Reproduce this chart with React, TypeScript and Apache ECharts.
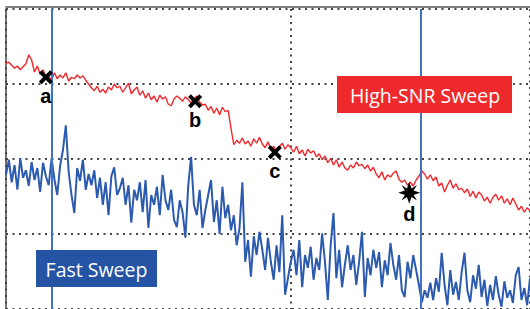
import React, { useEffect, useRef } from "react";
import * as echarts from "echarts";

// x axis in sweep units (0..92), one sample every 0.5 unit
const X_MIN = 0;
const X_MAX = 92;
const X_STEP = 0.5;

// High-SNR sweep level (dB)
const highSnr: number[] = [
  -7.2, -7.1, -7.5, -7.9, -7.6, -8.1, -7.7, -7.3, -6.1, -6.8,
  -8.4, -7.6, -8.7, -8.1, -9.1, -8.9, -9.5, -8.5, -9.3, -8.8,
  -9.2, -8.5, -9.6, -9.1, -9.3, -8.8, -9.2, -8.9, -9.5, -10.0,
  -10.5, -10.9, -10.3, -11.1, -10.7, -11.2, -10.4, -10.8, -10.0, -10.5,
  -10.3, -11.1, -10.5, -9.9, -11.3, -10.8, -10.4, -11.5, -10.9, -11.9,
  -11.2, -12.1, -11.6, -12.4, -11.5, -12.0, -11.7, -12.7, -12.9, -12.0,
  -11.6, -11.9, -12.3, -11.7, -12.1, -12.5, -12.0, -11.6, -12.4, -12.8,
  -12.7, -13.5, -13.0, -13.9, -13.2, -14.1, -13.1, -13.7, -13.5, -15.9,
  -18.1, -17.5, -17.9, -17.2, -18.0, -17.6, -18.3, -17.3, -17.9, -17.1,
  -18.0, -18.5, -17.7, -18.8, -18.3, -19.1, -18.4, -17.9, -18.7, -18.1,
  -18.5, -19.1, -18.3, -19.3, -18.8, -19.6, -18.7, -19.2, -18.9, -19.7,
  -19.3, -20.1, -19.6, -20.5, -19.9, -20.8, -20.1, -21.1, -20.4, -21.2,
  -21.5, -20.8, -21.2, -20.4, -20.9, -20.7, -21.3, -20.8, -21.6, -21.1,
  -22.0, -22.5, -21.7, -22.8, -22.1, -22.4, -21.9, -21.6, -22.7, -23.1,
  -22.8, -23.5, -23.1, -23.6, -22.8, -22.3, -21.6, -22.0, -22.7, -22.1,
  -22.9, -22.4, -23.6, -23.2, -24.4, -23.5, -22.8, -23.9, -23.3, -24.1,
  -23.9, -24.5, -24.0, -25.0, -24.3, -25.2, -24.4, -24.8, -25.6, -25.1,
  -25.9, -25.1, -24.7, -25.5, -24.9, -25.9, -25.3, -26.1, -25.2, -26.0,
  -26.8, -26.3, -27.1, -26.5, -26.9,
];

// Fast sweep level (dB)
const fastSweep: number[] = [
  -22.1, -20.1, -23.1, -20.8, -24.1, -19.9, -22.5, -21.5, -23.6, -20.4,
  -22.8, -21.2, -24.4, -20.5, -22.3, -23.5, -19.9, -22.7, -24.8, -20.9,
  -18.8, -15.5, -21.7, -24.8, -27.2, -21.2, -22.9, -20.1, -24.1, -22.0,
  -23.5, -21.5, -25.2, -22.5, -26.1, -23.1, -27.5, -22.3, -21.1, -24.8,
  -23.9, -22.5, -26.1, -23.5, -28.5, -24.1, -25.5, -23.1, -27.1, -22.8,
  -29.2, -24.8, -26.1, -23.7, -27.5, -22.1, -25.5, -26.8, -24.1, -28.1,
  -29.1, -25.5, -27.1, -30.5, -23.5, -19.7, -26.1, -27.5, -24.1, -29.2,
  -26.8, -24.8, -22.8, -28.4, -25.5, -30.0, -23.7, -27.9, -26.1, -29.5,
  -27.5, -31.5, -29.2, -23.1, -33.7, -30.8, -35.7, -30.3, -32.8, -29.7,
  -32.1, -34.8, -30.5, -33.7, -36.1, -31.5, -35.1, -27.5, -38.1, -35.9,
  -33.7, -32.1, -35.5, -30.8, -37.1, -32.8, -34.5, -31.7, -36.1, -33.2,
  -34.8, -29.9, -33.7, -38.8, -31.5, -27.2, -35.9, -32.1, -37.1, -34.1,
  -31.5, -34.8, -32.8, -36.8, -33.7, -29.7, -38.4, -33.2, -35.5, -32.1,
  -34.5, -32.4, -37.1, -33.5, -35.5, -31.2, -34.1, -36.1, -32.8, -37.5,
  -38.4, -33.7, -35.9, -32.8, -34.8, -36.8, -39.1, -37.5, -38.5, -36.5,
  -38.8, -35.9, -37.7, -32.5, -36.8, -39.5, -34.8, -38.1, -36.4, -38.8,
  -35.1, -32.5, -37.5, -39.1, -35.5, -37.3, -34.1, -38.4, -36.1, -39.6,
  -36.8, -38.8, -35.6, -38.1, -39.7, -36.3, -38.5, -37.5, -39.2, -35.5,
  -34.4, -38.8, -37.2, -39.5, -35.9,
];

// Markers
const markerNames = ["a", "b", "c", "d"];
const markerX = [7.0, 33.2, 47.2, 70.8];
const markerY = [-9.1, -12.3, -19.1, -24.5];

// Sweep cursor lines
const cursorX = [8.1, 72.9];

const Y_MIN = -40;
const Y_MAX = 0;
const Y_INTERVAL = 10;
const X_INTERVAL = 50;

const X_PATH =
  "path://M0,2 L2,0 L5,3 L8,0 L10,2 L7,5 L10,8 L8,10 L5,7 L2,10 L0,8 L3,5 Z";
const STAR_PATH =
  "path://M20,10 L13.9,12.1 L17.07,17.07 L12.1,13.9 L10,20 L7.9,13.9 L2.93,17.07 L6.1,12.1 L0,10 L6.1,7.9 L2.93,2.93 L7.9,6.1 L10,0 L12.1,6.1 L17.07,2.93 L13.9,7.9 Z";

const dotted = { type: [2, 4.5] as number[], color: "#444", width: 2 };

export default function App() {
  const ref = useRef<HTMLDivElement>(null);
  useEffect(() => {
    if (!ref.current) return;
    const chart = echarts.init(ref.current, undefined, { renderer: "svg" });
    const redData = highSnr.map((v, i) => [X_MIN + i * X_STEP, v]);
    const blueData = fastSweep.map((v, i) => [X_MIN + i * X_STEP, v]);
    const markers = markerNames.map((n, i) => ({
      name: n,
      value: [markerX[i], markerY[i]],
      symbol: n === "d" ? STAR_PATH : X_PATH,
      symbolSize: n === "d" ? 22 : 14,
      label: { distance: n === "d" ? 0 : 2 },
    }));
    chart.setOption({
      animation: false,
      backgroundColor: "#ffffff",
      grid: { left: 6, right: 0, top: 9, bottom: 0, containLabel: false },
      xAxis: [
        {
          type: "value",
          min: X_MIN,
          max: X_MAX,
          interval: X_INTERVAL,
          axisLine: { show: false },
          axisTick: { show: false },
          axisLabel: { show: false },
          splitLine: { show: true, lineStyle: dotted },
        },
        {
          type: "value",
          position: "top",
          offset: 2,
          min: X_MIN,
          max: X_MAX,
          axisLine: { show: true, lineStyle: { color: "#555", width: 1.5 } },
          axisTick: { show: false },
          axisLabel: { show: false },
          splitLine: { show: false },
        },
      ],
      yAxis: {
        type: "value",
        min: Y_MIN,
        max: Y_MAX,
        interval: Y_INTERVAL,
        axisLine: { show: true, lineStyle: { color: "#444", width: 1.5 } },
        axisTick: { show: false },
        axisLabel: { show: false },
        splitLine: { show: true, lineStyle: dotted },
      },
      series: [
        {
          type: "line",
          name: "Fast Sweep",
          data: blueData,
          symbol: "none",
          lineStyle: { color: "#2c5aaf", width: 2 },
          z: 2,
          markLine: {
            silent: true,
            symbol: "none",
            label: { show: false },
            lineStyle: { type: "solid", color: "#4272c6", width: 2 },
            data: cursorX.map((x) => ({ xAxis: x })),
          },
        },
        {
          type: "line",
          name: "High-SNR Sweep",
          data: redData,
          symbol: "none",
          lineStyle: { color: "#f2262a", width: 1.4 },
          z: 3,
        },
        {
          type: "scatter",
          data: markers,
          itemStyle: { color: "#000", opacity: 1 },
          z: 5,
          label: {
            show: true,
            position: "bottom",
            formatter: "{b}",
            color: "#000",
            opacity: 1,
            fontSize: 20,
            fontWeight: "bold",
            fontFamily: "Liberation Sans, Arial, sans-serif",
          },
        },
      ],
      graphic: [
        {
          type: "group",
          z: 100,
          children: [
            {
              type: "rect",
              shape: { x: 337, y: 76, width: 175, height: 37 },
              style: { fill: "#ee2a2c" },
              z: 100,
            },
            {
              type: "text",
              x: 425,
              y: 95,
              z: 101,
              style: {
                text: "High-SNR Sweep",
                fill: "#ffffff",
                font: "19.5px 'Open Sans', 'Noto Sans', sans-serif",
                align: "center",
                verticalAlign: "middle",
              },
            },
            {
              type: "rect",
              shape: { x: 36, y: 250, width: 121, height: 37 },
              style: { fill: "#2554a4" },
              z: 100,
            },
            {
              type: "text",
              x: 96.5,
              y: 269,
              z: 101,
              style: {
                text: "Fast Sweep",
                fill: "#ffffff",
                font: "19.5px 'Open Sans', 'Noto Sans', sans-serif",
                align: "center",
                verticalAlign: "middle",
              },
            },
          ],
        },
      ],
    });
    return () => chart.dispose();
  }, []);
  return (
    <div
      ref={ref}
      style={{ position: "absolute", left: 0, top: 0, width: 530, height: 309 }}
    />
  );
}
